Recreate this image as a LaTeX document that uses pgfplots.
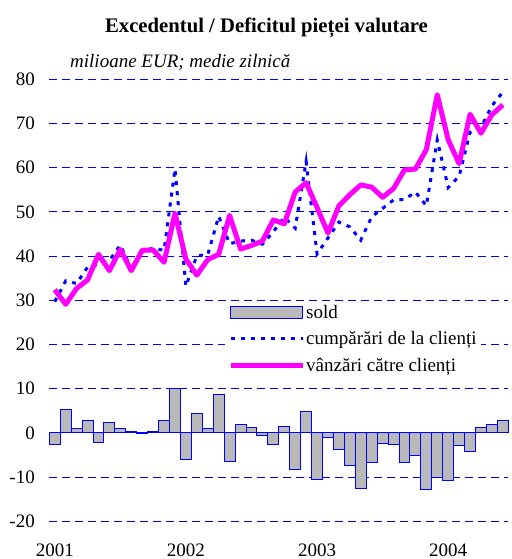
\documentclass[border=0pt]{standalone}
\usepackage{fontspec}
\setmainfont{Liberation Serif}
\usepackage{pgfplots}
\pgfplotsset{compat=1.18}
\usepackage{pgfplotstable}
\definecolor{barfill}{RGB}{185,185,185}
\definecolor{mag}{RGB}{255,0,255}
\pgfplotsset{
  linelegend/.style={legend image code/.code={\draw[##1] (0pt,0pt) -- (72pt,0pt);}},
  barlegend/.style={legend image code/.code={\draw[draw=blue, line width=1pt, fill=barfill] (0pt,-6pt) rectangle (72pt,6pt);}},
}
\pgfplotstableread{
i V S C
0 32.4 -2.7 29.7
1 29.1 5.3 34.4
2 32.7 1.1 33.8
3 34.6 2.9 37.5
4 40.4 -2.2 38.2
5 36.7 2.3 39.0
6 41.5 1.0 42.5
7 36.7 0.4 37.1
8 41.3 -0.2 41.1
9 41.4 0.4 41.8
10 38.6 2.7 41.3
11 49.7 10.0 59.7
12 39.3 -6.1 33.2
13 35.7 4.4 40.1
14 39.2 1.1 40.3
15 40.4 8.6 49.0
16 49.2 -6.4 42.8
17 41.6 1.8 43.4
18 42.4 1.2 43.6
19 43.4 -0.7 42.7
20 48.2 -2.7 45.5
21 47.3 1.5 48.8
22 54.5 -8.2 46.3
23 56.6 4.8 61.4
24 51.0 -10.5 40.5
25 45.2 -1.1 44.1
26 51.4 -3.7 47.7
27 53.9 -7.3 46.6
28 56.1 -12.5 43.6
29 55.6 -6.7 48.9
30 53.3 -2.5 50.8
31 55.3 -2.6 52.7
32 59.5 -6.7 52.8
33 59.7 -5.2 54.5
34 64.1 -12.7 51.4
35 76.5 -10.2 66.3
36 66.3 -10.8 55.5
37 60.9 -2.8 58.1
38 72.1 -4.1 68.0
39 67.8 1.3 69.1
40 72.0 2.0 74.0
41 74.2 2.9 77.1
}\datatable
\begin{document}
\begin{tikzpicture}
\begin{axis}[
  scale only axis, width=459pt, height=442pt,
  xmin=-0.5, xmax=41.5, ymin=-20, ymax=80,
  axis line style={draw=none},
  major tick length=0pt,
  xtick={0,12,24,36}, xticklabels={2001,2002,2003,2004},
  ytick={-20,-10,10,20,30,40,50,60,70,80},
  yticklabels={-20,-10,10,20,30,40,50,60,70,80},
  extra y ticks={0}, extra y tick labels={0},
  extra y tick style={ymajorgrids=true, major grid style={solid, blue, line width=1pt}},
  ymajorgrids=true,
  major grid style={blue, line width=1pt, dash pattern=on 8pt off 5pt},
  tick label style={font=\fontsize{19}{22}\selectfont},
  yticklabel style={anchor=east, inner sep=0pt, xshift=-14.3pt},
  xticklabel style={anchor=north, inner sep=0pt, yshift=-22pt},
  clip=false,
  legend style={at={(0.3828,0.497)}, anchor=north west, draw=none, fill=white,
    inner xsep=3pt, inner ysep=2pt, font=\fontsize{19}{22}\selectfont,
    row sep=10pt, nodes={inner sep=1pt}},
  legend cell align=left,
]
\addplot[ybar, bar width=1, draw=blue, line width=1pt, fill=barfill, barlegend]
  table[x=i, y=S] {\datatable};
\addlegendentry{sold}
\addplot[blue, line width=3pt, dash pattern=on 4pt off 6pt, linelegend]
  table[x=i, y=C] {\datatable};
\addlegendentry{cumpărări de la clienți}
\addplot[mag, line width=5pt, line join=round, linelegend]
  table[x=i, y=V] {\datatable};
\addlegendentry{vânzări către clienți}
\node[anchor=base, font=\fontsize{20.7}{24}\selectfont\bfseries] at (rel axis cs:0.4732,1) [yshift=47pt] {Excedentul / Deficitul pieței valutare};
\node[anchor=base west, inner sep=0pt, font=\fontsize{19}{22}\selectfont\itshape] at (rel axis cs:0.0451,1) [yshift=11.6pt] {milioane EUR; medie zilnică};
\end{axis}
\pgfresetboundingbox
\path ([shift={(-49.3pt,-37.7pt)}]current axis.south west) rectangle ([shift={(2.7pt,79.3pt)}]current axis.north east);
\end{tikzpicture}
\end{document}
